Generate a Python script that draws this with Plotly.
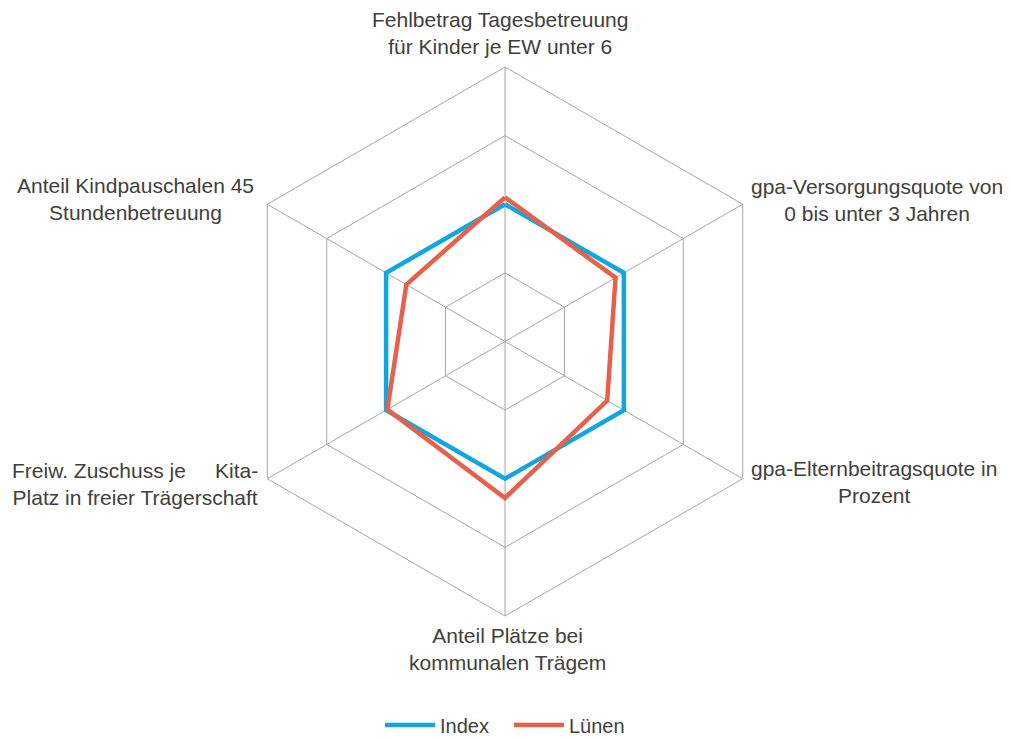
import plotly.graph_objects as go

categories = [
    "Fehlbetrag Tagesbetreuung für Kinder je EW unter 6",
    "gpa-Versorgungsquote von 0 bis unter 3 Jahren",
    "gpa-Elternbeitragsquote in Prozent",
    "Anteil Plätze bei kommunalen Trägern",
    "Freiw. Zuschuss je Kita-Platz in freier Trägerschaft",
    "Anteil Kindpauschalen 45 Stundenbetreuung",
]
label_texts = [
    "Fehlbetrag Tagesbetreuung<br>für Kinder je EW unter 6",
    "gpa-Versorgungsquote von<br>0 bis unter 3 Jahren",
    "gpa-Elternbeitragsquote in<br>Prozent",
    "Anteil Plätze bei<br>kommunalen Trägem",
    "Freiw. Zuschuss je\u00a0\u00a0\u00a0\u00a0\u00a0Kita-<br>Platz in freier Trägerschaft",
    "Anteil Kindpauschalen 45<br>Stundenbetreuung",
]
index_values = [100, 100, 100, 100, 100, 100]
luenen_values = [105, 93, 86, 114, 99, 83]

series_names = ["Index", "Lünen"]
series_colors = ["#12A6E0", "#E8604A"]

FONT = "Liberation Sans, Arial, sans-serif"
TEXT_COLOR = "#404040"
GRID = "#A6A6A6"

fig = go.Figure()
for name, vals, col in zip(series_names, [index_values, luenen_values], series_colors):
    fig.add_trace(go.Scatterpolar(
        r=vals + vals[:1],
        theta=categories + categories[:1],
        mode="lines",
        name=name,
        line=dict(color=col, width=4.5),
    ))

# page has an 8px body margin; figure sized to fit the window
OFF = 8
W, H = 1010 - OFF, 738 - OFF
# polar centre / radius in page pixels
pcx, pcy, R = 505, 341.5, 274.5
cx, cy = pcx - OFF, pcy - OFF
fig.update_layout(
    width=W, height=H,
    margin=dict(l=0, r=0, t=0, b=0, autoexpand=False),
    paper_bgcolor="white",
    plot_bgcolor="white",
    font=dict(family=FONT, size=21, color=TEXT_COLOR),
    polar=dict(
        domain=dict(x=[(cx - R) / W, (cx + R) / W], y=[1 - (cy + R) / H, 1 - (cy - R) / H]),
        bgcolor="white",
        gridshape="linear",
        radialaxis=dict(
            range=[0, 200], tickvals=[50, 100, 150, 200],
            showticklabels=False, ticks="", showline=False,
            gridcolor=GRID, gridwidth=1,
        ),
        angularaxis=dict(
            rotation=90, direction="clockwise",
            showticklabels=False, ticks="",
            showline=True, linecolor=GRID, linewidth=1,
            gridcolor=GRID, gridwidth=1,
        ),
    ),
    showlegend=True,
    legend=dict(
        orientation="h", x=(509 - OFF) / W, xanchor="center",
        y=1 - (725 - OFF) / H, yanchor="middle",
        font=dict(family=FONT, size=20, color=TEXT_COLOR),
        itemwidth=50, entrywidth=64,
    ),
)

# label centres in page pixels
label_pos = [
    (500, 33), (877, 200), (874, 482), (507, 649), (135, 484), (136, 199),
]
for txt, (x, y) in zip(label_texts, label_pos):
    fig.add_annotation(
        x=(x - OFF) / W, y=1 - (y - OFF) / H, xref="paper", yref="paper",
        text=txt, showarrow=False, xanchor="center", yanchor="middle",
        align="center", font=dict(family=FONT, size=21, color=TEXT_COLOR),
    )

fig.write_html("out.html")
